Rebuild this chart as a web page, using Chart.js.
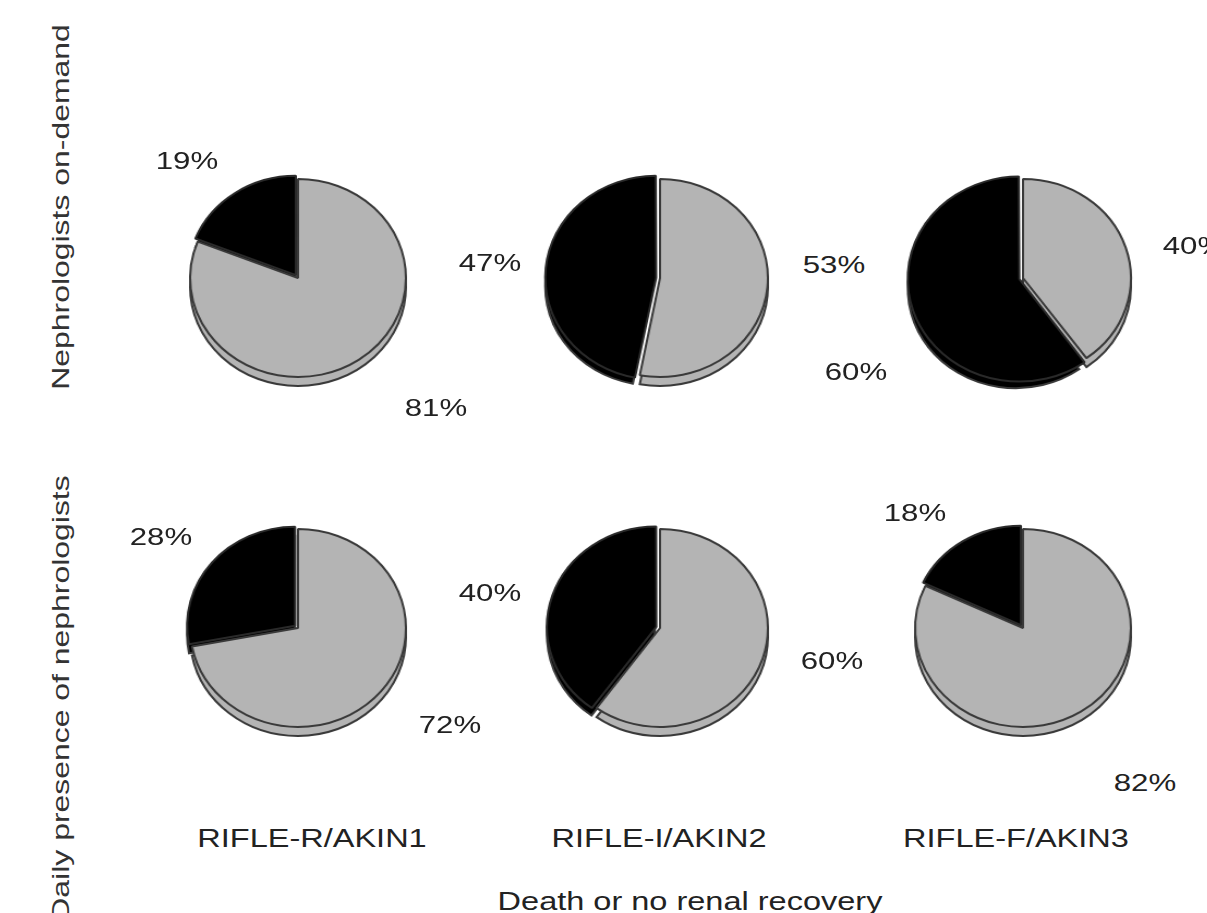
<!DOCTYPE html>
<html>
<head>
<meta charset="utf-8">
<script src="https://cdn.jsdelivr.net/npm/chart.js@4.4.1/dist/chart.umd.min.js"></script>
<style>
  html, body { margin: 0; padding: 0; background: #ffffff; }
  #stage { position: relative; width: 1207px; height: 913px; overflow: hidden; background: #fff;
           font-family: "Liberation Sans", Arial, sans-serif; color: #222; }
  .pie { position: absolute; width: 260px; height: 260px; transform: scaleX(1.09); transform-origin: 50% 50%; }
  .pie canvas { display: block; }
  .txt { position: absolute; white-space: nowrap; font-size: 24px; line-height: 1;
         transform: translate(-50%, -50%) scaleX(1.3); }
  .cat { font-size: 25px; }
  .rot { position: absolute; white-space: nowrap; font-size: 24px; line-height: 1; color: #333;
         transform: translate(-50%, -50%) rotate(-90deg) scaleX(1.33); }
</style>
</head>
<body>
<div id="stage"></div>
<script>
// ---------------- DATA ----------------
const categories = ['RIFLE-R/AKIN1', 'RIFLE-I/AKIN2', 'RIFLE-F/AKIN3'];
const groups = ['Nephrologists on-demand', 'Daily presence of nephrologists'];
const xTitle = 'Death or no renal recovery';
// percentages: [recovery (grey), death or no renal recovery (black)]
const recoveryOnDemand = [81, 53, 40];
const deathOnDemand    = [19, 47, 60];
const recoveryDaily    = [72, 60, 82];
const deathDaily       = [28, 40, 18];

// ---------------- LAYOUT ----------------
const colCenters = [298, 660, 1023];
const rowCenters = [278, 628];
const pieRadius = 99;
const rimDepth = 9;
const greyFill = '#b4b4b4';
const blackFill = '#000000';
// label positions (text centres) for [grey label, black label] of each pie, row-major
const labelPos = [
  [[436, 408], [187, 161]],
  [[834, 265], [490, 263]],
  [[1194, 246], [856, 372]],
  [[450, 725], [161, 537]],
  [[832, 661], [490, 593]],
  [[1145, 783], [915, 513]]
];
const catLabelY = 838;
const catLabelX = [312, 659, 1016];
const xTitlePos = [690, 901];
const groupLabelPos = [[61, 207], [61, 698]];

const stage = document.getElementById('stage');

const rimPlugin = {
  id: 'rim3d',
  beforeDatasetsDraw(chart) {
    const ctx = chart.ctx;
    const meta = chart.getDatasetMeta(0);
    meta.data.forEach((arc) => {
      const p = arc.getProps(['x', 'y', 'startAngle', 'endAngle', 'outerRadius', 'circumference'], true);
      const o = arc.options;
      const off = (o.offset || 0) / 4;
      const half = (p.startAngle + p.endAngle) / 2;
      const fix = 1 - Math.sin(Math.min(Math.PI, p.circumference || 0));
      const tot = off + off * fix;
      const cx = p.x + Math.cos(half) * tot;
      const cy = p.y + Math.sin(half) * tot + rimDepth;
      ctx.save();
      ctx.beginPath();
      ctx.moveTo(cx, cy);
      ctx.arc(cx, cy, p.outerRadius, p.startAngle, p.endAngle);
      ctx.closePath();
      ctx.fillStyle = o.backgroundColor;
      ctx.fill();
      ctx.lineWidth = 2;
      ctx.strokeStyle = '#3a3a3a';
      ctx.stroke();
      ctx.restore();
    });
  }
};

const rows = [[recoveryOnDemand, deathOnDemand], [recoveryDaily, deathDaily]];

rows.forEach((row, r) => {
  categories.forEach((cat, c) => {
    const div = document.createElement('div');
    div.className = 'pie';
    div.style.left = (colCenters[c] - 130) + 'px';
    div.style.top = (rowCenters[r] - 130) + 'px';
    const cv = document.createElement('canvas');
    cv.width = 260; cv.height = 260;
    div.appendChild(cv);
    stage.appendChild(div);
    new Chart(cv, {
      type: 'pie',
      data: {
        labels: ['Recovery', xTitle],
        datasets: [{
          data: [row[0][c], row[1][c]],
          backgroundColor: [greyFill, blackFill],
          borderColor: ['#3a3a3a', '#2a2a2a'],
          borderWidth: 2,
          offset: [0, 14],
          radius: pieRadius
        }]
      },
      options: {
        responsive: false,
        animation: false,
        events: [],
        plugins: { legend: { display: false }, tooltip: { enabled: false } }
      },
      plugins: [rimPlugin]
    });

    // percentage labels
    const idx = r * 3 + c;
    [row[0][c], row[1][c]].forEach((v, k) => {
      const t = document.createElement('div');
      t.className = 'txt';
      t.textContent = v + '%';
      t.style.left = labelPos[idx][k][0] + 'px';
      t.style.top = labelPos[idx][k][1] + 'px';
      stage.appendChild(t);
    });
  });
});

categories.forEach((cat, c) => {
  const t = document.createElement('div');
  t.className = 'txt cat';
  t.textContent = cat;
  t.style.left = catLabelX[c] + 'px';
  t.style.top = catLabelY + 'px';
  stage.appendChild(t);
});

const xt = document.createElement('div');
xt.className = 'txt cat';
xt.textContent = xTitle;
xt.style.left = xTitlePos[0] + 'px';
xt.style.top = xTitlePos[1] + 'px';
stage.appendChild(xt);

groups.forEach((g, i) => {
  const t = document.createElement('div');
  t.className = 'rot';
  t.textContent = g;
  t.style.left = groupLabelPos[i][0] + 'px';
  t.style.top = groupLabelPos[i][1] + 'px';
  stage.appendChild(t);
});
</script>
</body>
</html>
